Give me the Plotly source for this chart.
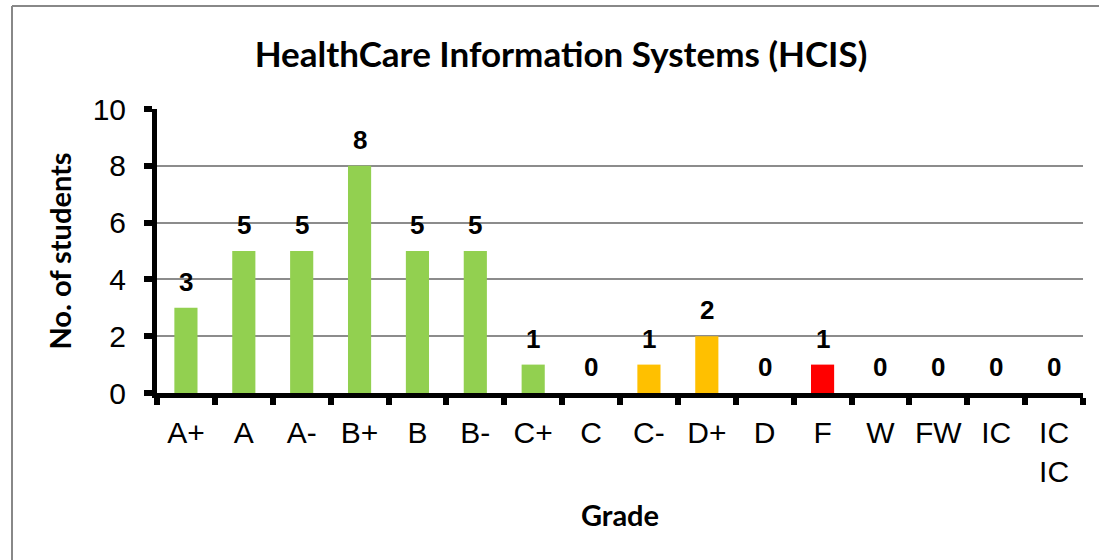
import plotly.graph_objects as go

grades = ["A+", "A", "A-", "B+", "B", "B-", "C+", "C", "C-", "D+", "D", "F", "W", "FW", "IC", "IC<br>IC"]
students = [3, 5, 5, 8, 5, 5, 1, 0, 1, 2, 0, 1, 0, 0, 0, 0]
bar_colors = ["#92D050"] * 7 + ["#FFC000"] * 4 + ["#FF0000"] + ["#92D050"] * 4

title_text = "HealthCare Information Systems (HCIS)"
x_title = "Grade"
y_title = "No. of students"

fig = go.Figure(
    go.Bar(
        x=grades,
        y=students,
        marker=dict(color=bar_colors, line=dict(width=0)),
        cliponaxis=False,
    )
)

annotations = [
    dict(x=g, y=v, xref="x", yref="y", text=str(v), showarrow=False,
         yanchor="bottom", yshift=9,
         font=dict(family="Liberation Sans", size=26, color="black", weight="bold"))
    for g, v in zip(grades, students)
]

fig.update_layout(
    width=1099,
    height=560,
    paper_bgcolor="white",
    plot_bgcolor="white",
    margin=dict(l=157, r=16, t=109, b=167),
    bargap=0.6,
    showlegend=False,
    annotations=annotations,
    title=dict(
        text=title_text,
        x=561 / 1099,
        xanchor="center",
        y=1 - 55 / 560,
        yanchor="middle",
        font=dict(family="Lato", size=35, color="black", weight="bold"),
    ),
    xaxis=dict(
        type="category",
        tickson="boundaries",
        tickangle=0,
        ticks="outside",
        ticklen=7,
        tickwidth=6,
        tickcolor="black",
        showline=True,
        linewidth=5,
        linecolor="black",
        showgrid=False,
        ticklabelstandoff=9,
        tickfont=dict(family="Liberation Sans", size=30, color="black", lineposition="none"),
        title=dict(text=x_title, standoff=20,
                   font=dict(family="Lato", size=29, color="black", weight="bold")),
    ),
    yaxis=dict(
        range=[0, 10],
        dtick=2,
        ticks="outside",
        ticklen=8,
        tickwidth=6,
        tickcolor="black",
        showline=True,
        linewidth=5,
        linecolor="black",
        showgrid=True,
        gridcolor="#8c8c8c",
        gridwidth=1.5,
        zeroline=False,
        ticklabelstandoff=12,
        tickfont=dict(family="Liberation Sans", size=30, color="black"),
        title=dict(text=y_title, standoff=14,
                   font=dict(family="Lato", size=29, color="black", weight="bold")),
    ),
    shapes=[
        dict(type="line", xref="paper", yref="paper",
             x0=-145 / 926, x1=1.2, y0=1 + 103 / 284, y1=1 + 103 / 284,
             line=dict(color="#888888", width=2)),
        dict(type="line", xref="paper", yref="paper",
             x0=-145 / 926, x1=-145 / 926, y0=-0.7, y1=1 + 103 / 284,
             line=dict(color="#888888", width=2)),
    ],
)

fig.write_html("out.html", config={"displayModeBar": False},
               post_script="document.body.style.margin='0';")
